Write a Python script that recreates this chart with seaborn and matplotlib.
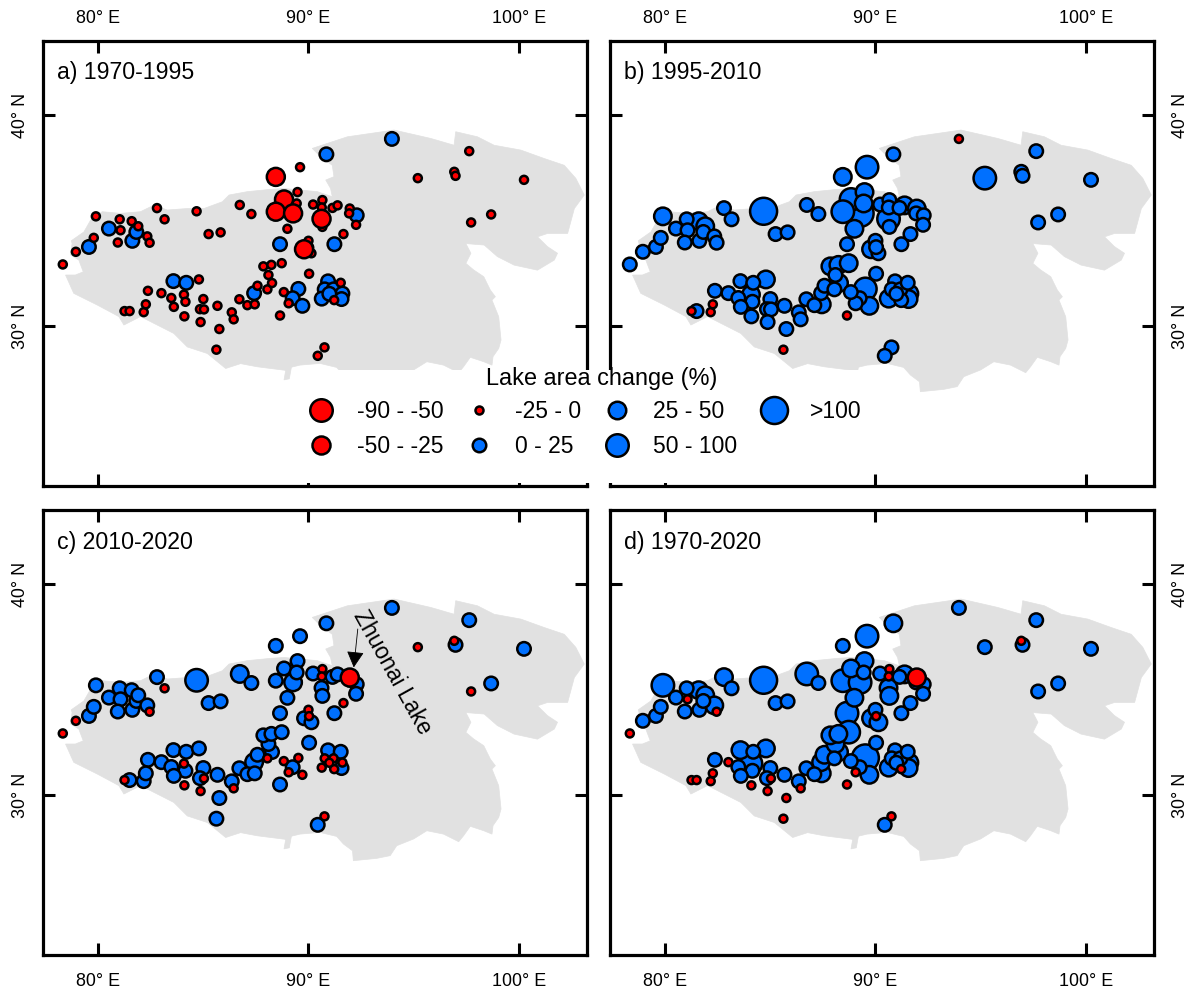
import pandas as pd
import seaborn as sns
import matplotlib.pyplot as plt
from matplotlib.lines import Line2D
from matplotlib.patches import Rectangle

# lake centres, same lakes in every panel
LON = [78.35, 78.97, 79.59, 79.82, 79.92, 80.54, 81.05, 81.09, 80.96, 81.65,
       81.84, 81.62, 81.93, 82.36, 82.47, 82.82, 83.18, 84.70, 85.27, 85.84,
       86.75, 87.30, 88.46, 89.61, 89.49, 88.85, 89.45, 88.46, 89.28, 89.01,
       88.66, 89.80, 90.01, 90.15, 90.23, 90.67, 90.64, 90.63, 90.67, 91.15,
       91.39, 91.24, 93.97, 90.86, 97.64, 95.20, 96.93, 96.99, 100.24, 98.68,
       97.73, 91.97, 91.94, 92.30, 92.27, 91.67,
       90.04, 90.94, 90.78, 90.64, 91.20, 91.54, 91.23, 91.62, 91.58, 89.53,
       89.26, 89.72, 89.07, 88.84, 90.77, 90.45, 83.60, 84.21, 84.81, 82.39,
       83.03, 83.50, 84.10, 84.17, 83.62, 85.02, 84.86, 85.05, 85.69, 84.12,
       84.89, 86.37, 86.46, 85.78, 85.64, 81.28, 81.52, 82.19, 82.29, 86.73,
       87.11, 87.46, 87.43, 87.59, 88.06, 88.28, 88.11, 87.87, 88.25, 88.74,
       88.66, 90.04, 91.00]
LAT = [32.92, 33.52, 33.75, 34.18, 35.20, 34.62, 35.06, 34.54, 33.96, 34.04,
       34.46, 34.97, 34.73, 34.25, 33.95, 35.59, 35.06, 35.44, 34.36, 34.44,
       35.74, 35.31, 37.07, 37.53, 36.35, 36.00, 35.81, 35.42, 35.34, 34.61,
       33.88, 33.64, 34.04, 33.45, 35.76, 35.97, 35.62, 35.08, 34.70, 35.60,
       35.72, 33.88, 38.87, 38.14, 38.29, 37.01, 37.31, 37.12, 36.93, 35.29,
       34.91, 35.57, 35.34, 35.25, 34.80, 34.36,
       32.48, 32.12, 31.74, 31.30, 31.74, 32.05, 31.23, 31.54, 31.28, 31.76,
       31.32, 30.96, 31.08, 31.61, 28.99, 28.59, 32.13, 32.05, 32.21, 31.67,
       31.56, 31.33, 31.49, 31.15, 30.91, 31.28, 30.80, 30.79, 30.96, 30.46,
       30.19, 30.65, 30.32, 29.86, 28.88, 30.71, 30.71, 30.66, 31.03, 31.27,
       30.99, 31.03, 31.56, 31.91, 31.74, 32.04, 32.42, 32.83, 32.90, 32.98,
       30.50, 33.74, 31.53]

# class index per lake for each period
CAT_A = [2, 2, 3, 2, 2, 3, 2, 2, 2, 3,
         3, 2, 2, 2, 2, 2, 2, 2, 2, 2,
         2, 2, 1, 2, 2, 1, 2, 1, 1, 2,
         3, 1, 2, 2, 2, 2, 2, 1, 2, 2,
         2, 3, 3, 3, 2, 2, 2, 2, 2, 2,
         2, 2, 2, 3, 2, 2,
         2, 3, 3, 3, 3, 2, 2, 3, 3, 3,
         3, 3, 2, 2, 2, 2, 3, 3, 2, 2,
         2, 2, 2, 2, 2, 2, 2, 2, 2, 2,
         2, 2, 2, 2, 2, 2, 2, 2, 2, 2,
         2, 2, 3, 2, 2, 2, 2, 2, 2, 2,
         2, 2, 3]
CAT_B = [3, 3, 3, 3, 4, 3, 3, 3, 3, 3,
         3, 4, 4, 3, 3, 3, 3, 6, 3, 3,
         3, 3, 4, 5, 4, 5, 4, 5, 6, 4,
         3, 4, 3, 3, 3, 3, 3, 5, 3, 3,
         4, 3, 2, 3, 3, 5, 3, 3, 3, 3,
         3, 4, 3, 3, 3, 3,
         3, 3, 3, 4, 3, 3, 3, 4, 4, 5,
         3, 4, 3, 3, 3, 3, 3, 3, 4, 3,
         3, 3, 4, 3, 3, 3, 3, 3, 3, 3,
         3, 3, 3, 3, 2, 2, 3, 2, 2, 3,
         3, 4, 3, 3, 3, 4, 3, 4, 4, 4,
         2, 3, 3]
CAT_C = [2, 2, 3, 3, 3, 3, 3, 3, 3, 3,
         3, 3, 3, 3, 2, 3, 2, 5, 3, 3,
         4, 3, 3, 3, 3, 3, 3, 3, 4, 3,
         3, 3, 2, 3, 3, 2, 2, 3, 3, 3,
         3, 3, 3, 3, 3, 2, 2, 3, 3, 3,
         2, 1, 2, 3, 3, 2,
         3, 3, 2, 2, 2, 3, 2, 2, 3, 2,
         3, 2, 2, 2, 2, 3, 3, 3, 3, 3,
         3, 3, 2, 3, 3, 3, 3, 2, 3, 2,
         2, 3, 2, 3, 3, 2, 3, 3, 3, 3,
         3, 3, 4, 3, 2, 3, 3, 3, 3, 3,
         3, 2, 2]
CAT_D = [2, 3, 3, 3, 5, 3, 3, 2, 3, 3,
         3, 4, 4, 4, 2, 4, 3, 6, 3, 3,
         5, 3, 3, 5, 4, 4, 3, 5, 5, 4,
         5, 4, 3, 4, 3, 2, 2, 4, 4, 3,
         4, 3, 3, 4, 3, 3, 2, 3, 3, 3,
         3, 1, 3, 3, 3, 3,
         3, 3, 3, 4, 3, 3, 2, 4, 4, 6,
         3, 4, 2, 3, 2, 3, 4, 3, 4, 3,
         2, 3, 5, 3, 3, 3, 3, 2, 3, 2,
         2, 3, 2, 2, 2, 2, 2, 2, 2, 3,
         3, 4, 4, 4, 3, 4, 4, 4, 4, 5,
         2, 2, 3]

CLASS_LABELS = ['-90 - -50', '-50 - -25', '-25 - 0', '0 - 25', '25 - 50', '50 - 100', '>100']
PERIODS = ['a) 1970-1995', 'b) 1995-2010', 'c) 2010-2020', 'd) 1970-2020']

# basin outline
BASIN_LON = [78.75, 79.35, 79.67, 80.22, 81.09, 82.04, 82.67, 83.31, 84.26, 85.05,
             85.92, 86.24, 87.11, 88.22, 88.85, 90.43, 91.14, 91.06, 90.83, 91.22,
             91.14, 90.59, 90.19, 91.86, 94.07, 95.82, 96.92, 97.00, 98.03, 98.82,
             100.09, 101.20, 102.15, 102.70, 103.10, 102.63, 102.31, 101.36, 100.88, 101.36,
             101.83, 101.68, 100.88, 99.77, 98.98, 98.35, 97.48, 97.72, 97.48, 97.85,
             98.33, 98.64, 98.88, 98.72, 99.04, 99.15, 99.04, 98.77, 98.72, 98.33,
             97.69, 97.37, 97.14, 96.42, 95.63, 95.00, 94.20, 93.89, 93.25, 92.14,
             92.10, 91.67, 91.35, 90.56, 89.61, 89.20, 89.10, 88.85, 88.93, 87.58,
             86.79, 86.08, 85.21, 84.26, 83.62, 82.04, 81.25, 81.01, 79.98, 78.87,
             78.48, 78.95, 79.32, 79.11, 78.72, 78.79]
BASIN_LAT = [34.04, 34.46, 35.02, 35.42, 35.34, 35.42, 35.73, 35.50, 35.57, 35.57,
             35.89, 36.21, 36.37, 36.48, 36.52, 36.37, 36.13, 36.52, 36.92, 37.08,
             37.62, 38.02, 38.42, 38.97, 39.29, 38.89, 38.57, 39.21, 38.97, 38.57,
             38.34, 37.94, 37.62, 37.00, 36.21, 35.57, 34.39, 34.39, 34.23, 33.76,
             33.45, 33.13, 32.65, 32.89, 33.29, 33.84, 33.91, 33.45, 32.97, 32.66,
             32.34, 31.71, 31.39, 31.23, 30.44, 29.34, 28.94, 28.55, 28.15, 28.31,
             28.52, 28.07, 27.79, 28.15, 28.31, 27.92, 27.60, 27.13, 27.00, 26.89,
             27.36, 27.68, 28.04, 28.23, 28.15, 28.05, 27.50, 27.45, 27.90, 28.07,
             28.22, 27.99, 28.70, 29.01, 29.65, 30.45, 30.05, 30.45, 31.00, 31.55,
             32.42, 32.42, 32.57, 33.13, 33.37, 33.92]

RED = '#FF0000'
BLUE = '#0070FF'
GREY = '#E1E1E1'
W, H = 1188, 991

palette = {lab: (RED if i < 3 else BLUE) for i, lab in enumerate(CLASS_LABELS)}
diam_px = [25, 20.5, 10.5, 16, 20, 25, 29.5]  # outer diameter of the symbol
edge = 1.8
sizes = {lab: ((d - 2.5) * 0.72) ** 2 for lab, d in zip(CLASS_LABELS, diam_px)}
# blue big to small, then red small to big
rank = {3: 3, 4: 2, 5: 1, 6: 0, 2: 4, 1: 5, 0: 6}

sns.set_theme(style="white")
plt.rcParams['font.family'] = ['Liberation Sans', 'DejaVu Sans']

fig = plt.figure(figsize=(W / 100, H / 100), dpi=100)
boxes = [(43, 41), (610, 41), (43, 510), (610, 510)]
cats = [CAT_A, CAT_B, CAT_C, CAT_D]

for i, (x0, y0) in enumerate(boxes):
    ax = fig.add_axes([x0 / W, 1 - (y0 + 445) / H, 544 / W, 445 / H])
    df = pd.DataFrame({'lon': LON, 'lat': LAT, 'cat': cats[i]})
    df['rank'] = df['cat'].map(rank)
    df = df.sort_values('rank', kind='stable')
    df['label'] = [CLASS_LABELS[c] for c in df['cat']]

    ax.fill(BASIN_LON, BASIN_LAT, color=GREY, lw=0.5, zorder=1)
    sns.scatterplot(data=df, x='lon', y='lat', hue='label', size='label', palette=palette,
                    sizes=sizes, edgecolor='black', linewidth=edge, legend=False,
                    ax=ax, zorder=3)

    ax.set_xlim(77.41, 103.23)
    ax.set_ylim(22.42, 43.51)
    ax.set_xlabel('')
    ax.set_ylabel('')
    ax.set_xticks([80, 90, 100], ['80° E', '90° E', '100° E'])
    ax.set_yticks([30, 40], ['30° N', '40° N'])
    ax.tick_params(axis='both', which='major', direction='in', length=8.5, width=2.2,
                   color='black', labelcolor='black', labelsize=12.9,
                   top=True, bottom=True, left=True, right=True,
                   labeltop=i < 2, labelbottom=i >= 2,
                   labelleft=i % 2 == 0, labelright=i % 2 == 1)
    ax.tick_params(axis='x', pad=10 if i < 2 else 13)
    ax.tick_params(axis='y', pad=10 if i % 2 == 0 else 13, labelrotation=90)
    for t in ax.yaxis.get_major_ticks():
        t.label1.set_va('center')
        t.label2.set_va('center')
    for s in ax.spines.values():
        s.set_linewidth(2.3)
        s.set_color('black')
    ax.text(14 / 544, 1 - 32 / 445, PERIODS[i], transform=ax.transAxes, fontsize=16.7,
            va='center', ha='left', color='black')

    if i == 2:
        ax.annotate('', xy=(92.16, 36.05), xytext=(92.35, 37.87), zorder=5,
                    arrowprops=dict(arrowstyle='-|>,head_length=0.5,head_width=0.27',
                                    mutation_scale=20, color='black', lw=0.6,
                                    shrinkA=0, shrinkB=0))
        ax.text(93.99, 35.80, 'Zhuonai Lake', rotation=-61, rotation_mode='anchor',
                fontsize=16.4, ha='center', va='center', color='black', zorder=5)

# white block behind the shared legend
fig.add_artist(Rectangle((293 / W, 1 - 483 / H), 572 / W, 113 / H, transform=fig.transFigure,
                         facecolor='white', edgecolor='none', zorder=5))

handles = []
for i, lab in enumerate(CLASS_LABELS):
    handles.append(Line2D([], [], linestyle='none', marker='o', markerfacecolor=palette[lab],
                          markeredgecolor='black', markeredgewidth=edge,
                          markersize=(diam_px[i] - 2.5) * 0.72))
leg = fig.legend(handles, CLASS_LABELS, ncol=4, loc='center left',
                 bbox_to_anchor=(307 / W, 1 - 429 / H), frameon=False, fontsize=16.5,
                 handlelength=1.2, handletextpad=0.97, columnspacing=0.97,
                 labelspacing=0.53, borderpad=0, borderaxespad=0, labelcolor='black')
leg.set_zorder(6)
fig.text(602 / W, 1 - 379 / H, 'Lake area change (%)', fontsize=16.9, ha='center',
         va='center', color='black', zorder=7)

plt.savefig('out.png', dpi=100)
plt.close()
